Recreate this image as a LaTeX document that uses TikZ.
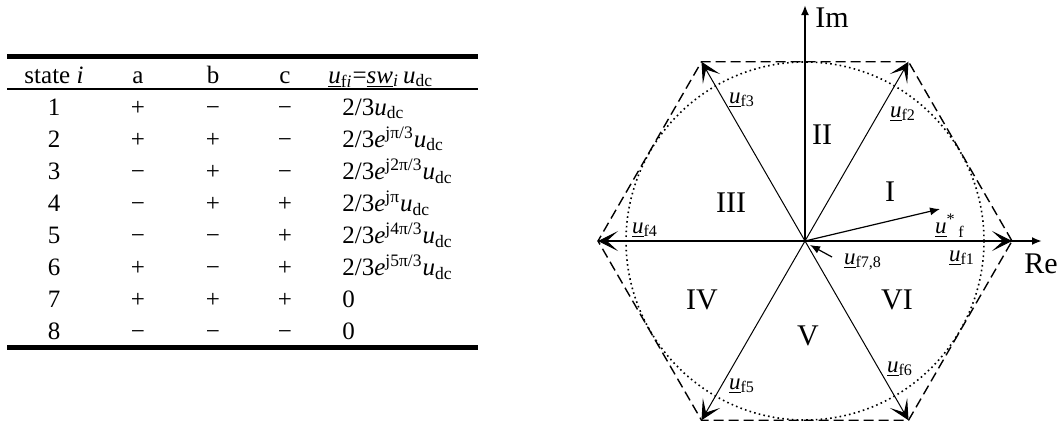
\documentclass[tikz,border=0pt]{standalone}
\usepackage{fontspec}
\setmainfont{Liberation Serif}
\usetikzlibrary{arrows.meta}

\newcommand{\uu}{\underline{\textit{u}}}
\newcommand{\udc}{\textit{u}\textsubscript{dc}}
\newcommand{\ee}[1]{\textit{e}\textsuperscript{#1}}

\begin{document}
\begin{tikzpicture}[x=0.5pt, y=0.5pt,
    vec/.style={line width=0.5pt, -{Stealth[length=10pt,width=10pt,inset=5.5pt]}},
    axis/.style={line width=1pt, -{Latex[length=5pt,width=4pt]}},
    small/.style={line width=0.6pt, -{Latex[length=5pt,width=4pt]}},
    sector/.style={font=\fontsize{15}{15}\selectfont, inner sep=0pt},
    vlab/.style={font=\fontsize{11.5}{11.5}\selectfont, inner sep=0pt},
    cell/.style={font=\fontsize{12.5}{12.5}\selectfont, anchor=base, inner sep=0pt}]

    \useasboundingbox (0,0) rectangle (1064,425);

    % table rules
    \draw[line width=2.5pt] (7,369) -- (478,369);
    \draw[line width=1.2pt] (7,336) -- (478,336);
    \draw[line width=2.5pt] (7,77.5) -- (478,77.5);

    % table header
    \node[cell] (hst) at (54,342) {state \textit{i}};
    \node[cell] (ha) at (138,342) {a};
    \node[cell] (hb) at (213,342) {b};
    \node[cell] (hc) at (285,342) {c};
    \node[cell, anchor=base west] (hu) at (328,342)
        {\uu\textsubscript{f\textit{i}}=\underline{\textit{sw}}\textsubscript{\textit{i}}\,\udc};

    % table rows
    \foreach \st/\sa/\sb/\sc/\fm [count=\k] in {
        1/+/−/−/{2/3\udc},
        2/+/+/−/{2/3\ee{jπ/3}\udc},
        3/−/+/−/{2/3\ee{j2π/3}\udc},
        4/−/+/+/{2/3\ee{jπ}\udc},
        5/−/−/+/{2/3\ee{j4π/3}\udc},
        6/+/−/+/{2/3\ee{j5π/3}\udc},
        7/+/+/+/0,
        8/−/−/−/0}{
        \pgfmathsetmacro{\yb}{310-(\k-1)*32.1}
        \node[cell] (st\k) at (54,\yb) {\st};
        \node[cell] (sa\k) at (138,\yb) {\sa};
        \node[cell] (sb\k) at (213,\yb) {\sb};
        \node[cell] (sc\k) at (285,\yb) {\sc};
        \node[cell, anchor=base west] (fm\k) at (342,\yb) {\fm};
    }

    % hexagon corners
    \coordinate (O) at (805,184);
    \foreach \k in {1,...,6}
        \path (O) ++({(\k-1)*60}:207) coordinate (V\k);

    % circle and hexagon
    \draw[line width=0.8pt, dash pattern=on 0.8pt off 1.6pt] (O) circle (179);
    \draw[line width=0.7pt, dash pattern=on 5pt off 2.5pt]
        (V1) -- (V2) -- (V3) -- (V4) -- (V5) -- (V6) -- cycle;

    % axes
    \coordinate (reEnd) at (1042,184);
    \coordinate (imEnd) at (805,420);
    \draw[axis] (V4) -- (reEnd);
    \draw[axis] (O) -- (imEnd);
    \node[sector] (re) at (1041,161) {Re};
    \node[sector] (im) at (832,407) {Im};

    % switching vectors
    \foreach \k in {1,...,6}
        \draw[vec] (O) -- (V\k);

    \node[vlab] (lf1) at (962,167) {\uu\textsubscript{f1}};
    \node[vlab] (lf2) at (903,311) {\uu\textsubscript{f2}};
    \node[vlab] (lf3) at (742,325) {\uu\textsubscript{f3}};
    \node[vlab] (lf4) at (645,195) {\uu\textsubscript{f4}};
    \node[vlab] (lf5) at (742,39) {\uu\textsubscript{f5}};
    \node[vlab] (lf6) at (900,56) {\uu\textsubscript{f6}};

    % zero vectors and reference
    \coordinate (zTail) at (832,168);
    \coordinate (zTip) at (810,180);
    \draw[small] (zTail) -- (zTip);
    \node[vlab] (lf78) at (863,163) {\uu\textsubscript{f7,8}};

    \coordinate (refTip) at (940,216);
    \draw[small] (O) -- (refTip);
    \node[vlab] (lref) at (950,199) {\uu\textsuperscript{*}\textsubscript{\,f}};

    % sectors
    \node[sector] (s1) at (890,233) {I};
    \node[sector] (s2) at (822,290) {II};
    \node[sector] (s3) at (731,222) {III};
    \node[sector] (s4) at (702,125) {IV};
    \node[sector] (s5) at (808,89) {V};
    \node[sector] (s6) at (897,125) {VI};
\end{tikzpicture}
\end{document}
